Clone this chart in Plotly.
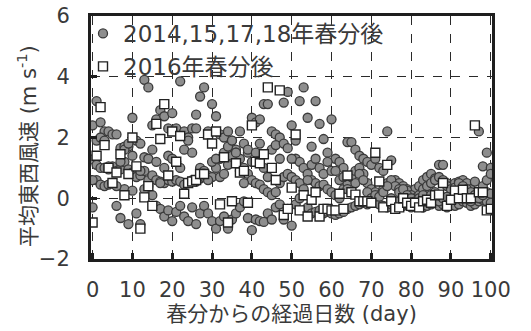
import plotly.graph_objects as go

# Days since the vernal equinox
days = list(range(0, 101))

# Mean zonal wind (m/s) after the equinox, 2014, 2015, 2017, 2018
wind_2014 = [2.4, 3.2, 2.5, 2.2, 2.2, 2.1, 2.1, 1.65, 1.7, 1.7, 2.65,
             1.9, 1.8, 3.9, 3.65, 2.4, 2.6, 2.9, 2.7, 2.3, 2.8,
             2.3, 3.85, 2.2, 2.0, 2.3, 2.75, 3.35, 3.65, 2.2, 3.1,
             2.7, 2.1, 2.0, 2.2, 1.9, 1.6, 2.2, 1.8, 1.5, 2.65,
             2.5, 2.6, 3.1, 3.1, 2.2, 2.1, 2.0, 3.15, 3.5, 2.4,
             1.9, 3.2, 3.65, 2.65, 1.7, 3.2, 2.45, 1.95, 1.5, 2.6,
             1.3, 1.2, 1.0, 1.85, 1.85, 1.6, 1.4, 1.3, 1.2, 1.1,
             1.3, 1.0, 0.9, 2.2, 1.25, 0.6, 0.5, 0.4, 0.3, 0.2,
             0.3, 0.4, 0.6, 0.7, 0.8, 0.65, 1.1, 1.1, 0.5, 0.4,
             0.5, 0.55, 0.6, 0.5, 0.3, 0.55, 2.2, 1.05, 1.5, 1.0]
wind_2015 = [1.28, 1.1, 1.0, 1.0, 0.95, 1.05, 0.9, 0.95, 1.2, 0.95, 0.85,
             0.7, 0.75, 0.9, 0.6, 0.75, 0.6, 0.55, 0.5, 0.6, 0.55,
             0.6, 0.55, 0.45, 0.5, 0.6, 0.55, 0.65, 0.7, 0.75, 0.7,
             1.0, 1.3, 1.5, 1.7, 1.9, 1.5, 1.3, 1.0, 0.8, 0.6,
             0.5, 0.45, 0.3, 0.2, 0.1, 0.2, 0.5, 0.7, 0.8, 0.7,
             1.3, 1.2, 1.0, 0.8, 0.6, 0.5, 0.4, 0.45, 0.3, 0.2,
             0.1, 0.0, 0.3, 0.5, 0.7, 0.9, 1.0, 0.8, 0.5, 0.3,
             0.2, 0.1, 0.3, 0.5, 0.6, 0.4, 0.3, 0.2, 0.25, 0.1,
             0.0, 0.1, 0.3, 0.4, 0.5, 0.6, 0.7, 0.6, 0.4, 0.3,
             0.35, 0.5, 0.4, 0.3, 0.2, 0.1, 0.2, 0.4, 0.6, 0.8]
wind_2017 = [-0.3, 0.6, 0.45, 0.4, 0.45, 0.5, -0.25, -0.65, 0.3, -0.85, 0.25,
             -0.5, -0.85, 0.3, 0.4, 0.1, -0.25, -0.35, -0.6, -0.4, -0.75,
             -0.45, -0.25, -0.6, -0.75, -0.3, -0.85, -0.5, -0.25, -0.5, -0.75,
             -1.0, -0.75, -0.6, -1.0, -0.7, -0.5, -0.3, -0.1, -0.65, -1.05,
             -0.7, -0.75, -0.78, -0.5, -0.7, -0.3, -0.2, -0.7, -0.35, -0.9,
             -0.2, 0.0, -0.4, -0.3, -0.5, -0.45, -0.4, -0.5, -0.45, -0.5,
             -0.55, -0.5, -0.45, -0.35, -0.3, -0.25, -0.2, -0.15, -0.2, -0.1,
             -0.15, -0.2, -0.25, -0.3, -0.2, -0.15, -0.2, -0.25, -0.2, -0.3,
             -0.25, -0.2, -0.3, -0.25, -0.2, -0.15, -0.25, -0.2, -0.3, -0.2,
             -0.25, -0.2, -0.1, -0.15, -0.25, -0.2, -0.1, -0.05, -0.1, -0.15]
wind_2018 = [0.6, 1.9, 2.0, 1.9, 1.05, 0.5, 0.4, 1.2, 1.6, 1.8, 1.4,
             1.0, 0.9, 1.35, 1.3, 1.6, 1.2, 0.5, 1.0, 1.4, 1.3,
             1.2, 1.0, 1.6, 1.9, 1.5, 2.3, 1.0, 0.9, 0.6, 1.2,
             1.3, 0.7, 0.8, 1.1, 1.4, 1.5, 0.9, 0.5, 1.6, 1.2,
             1.5, 1.8, 1.0, 0.7, 1.6, 1.75, 1.3, 1.8, 1.65, 1.3,
             0.6, 0.5, 0.3, 0.6, 1.1, 1.3, 1.0, 0.8, 1.2, 0.9,
             0.9, 0.6, 0.7, 0.3, 0.2, 0.5, 0.8, 0.6, 0.2, 0.0,
             0.1, 0.05, 0.2, 0.4, 0.0, -0.1, 0.2, 0.3, 0.1, 0.0,
             -0.1, 0.0, 0.1, -0.1, 0.1, 0.2, -0.1, 0.0, 0.05, -0.05,
             0.0, 0.1, 0.2, 0.0, -0.1, 0.1, 0.0, 0.1, 0.2, 0.15]

# Mean zonal wind (m/s) after the 2016 equinox
days_2016 = list(range(0, 101))
wind_2016 = [-0.8, 1.4, 3.0, 1.75, 1.0, 0.5, 0.85, 1.45, 0.1, 0.8, 2.0,
             1.05, -1.0, 0.03, 0.4, -0.25, 2.45, 1.95, 3.1, 0.75, 2.2,
             1.2, 2.05, 0.15, 0.5, 0.55, 0.6, 0.8, 0.8, 2.1, 1.8,
             2.2, -0.2, 1.35, -0.8, -0.1, 1.15, 0.85, 0.9, -0.15, 2.4,
             1.2, 1.15, 1.45, 3.65, 1.0, 0.6, 3.55, -0.55, -0.35, 0.35,
             2.1, -0.4, 0.1, -0.6, -0.05, 0.2, -0.6, -0.35, -0.35, -0.4,
             -0.4, 0.15, -0.35, 0.75, 0.2, 0.12, -0.1, -0.1, -0.1, -0.15,
             1.5, 0.55, -0.3, 1.1, -0.1, -0.35, -0.3, 0.0, -0.15, -0.25,
             -0.15, -0.3, -0.1, -0.05, -0.15, 0.1, 0.12, 0.5, -0.25, -0.05,
             0.25, 0.0, 0.28, 0.0, 0.0, 2.4, 0.2, 0.2, -0.4, -0.35]

x_ticks = [0, 10, 20, 30, 40, 50, 60, 70, 80, 90, 100]
y_ticks = [-2, 0, 2, 4, 6]

FONT = "DejaVu Sans, Noto Sans CJK JP, sans-serif"
TXT = "#3a3a3a"
W, H = 531, 331

circ_x = days * 4
circ_y = wind_2014 + wind_2015 + wind_2017 + wind_2018

fig = go.Figure()
fig.add_trace(go.Scatter(
    x=circ_x, y=circ_y, mode="markers", name="2014,15,17,18年春分後",
    marker=dict(symbol="circle", size=9, color="#8e8e8e",
                line=dict(color="#3a3a3a", width=1.3)),
))
fig.add_trace(go.Scatter(
    x=days_2016, y=wind_2016, mode="markers", name="2016年春分後",
    marker=dict(symbol="square", size=9, color="white",
                line=dict(color="#222222", width=1.4)),
))

axis_common = dict(
    showline=True, linecolor="#1e1e1e", linewidth=3, mirror=True,
    showgrid=True, gridcolor="#2a2a2a", griddash="dash", gridwidth=1.3,
    zeroline=False, ticks="inside", ticklen=6, tickwidth=2.5, tickcolor="#1e1e1e",
    tickfont=dict(family=FONT, size=21, color=TXT), automargin=False,
)

# Plot frame in pixels: left 91, right 492, top 16, bottom 259
fig.update_xaxes(
    domain=[91 / W, 492 / W],
    range=[-0.4, 100.3], tickvals=x_ticks, ticklabelstandoff=10,
    title=dict(text="春分からの経過日数 (day)", font=dict(family=FONT, size=21, color=TXT),
               standoff=6),
    **axis_common,
)
fig.update_yaxes(
    domain=[(H - 259) / H, (H - 16) / H],
    range=[-2, 6], tickvals=y_ticks, ticklabelstandoff=14,
    **axis_common,
)

# Vertical axis title, placed next to the tick labels
fig.add_annotation(
    text="平均東西風速 (m s<sup>-1</sup>)", textangle=-90,
    xref="paper", yref="paper", x=27 / W, y=(H - 146) / H,
    xanchor="center", yanchor="middle", showarrow=False,
    font=dict(family=FONT, size=21, color=TXT),
)

fig.update_layout(
    width=W, height=H,
    margin=dict(l=0, r=0, t=0, b=0),
    paper_bgcolor="white", plot_bgcolor="white",
    showlegend=True,
    legend=dict(x=83 / W, y=(H - 12) / H, xanchor="left", yanchor="top",
                bgcolor="rgba(0,0,0,0)", borderwidth=0,
                font=dict(family=FONT, size=23, color=TXT),
                tracegroupgap=0, itemwidth=30),
)

fig.write_html("out.html")
